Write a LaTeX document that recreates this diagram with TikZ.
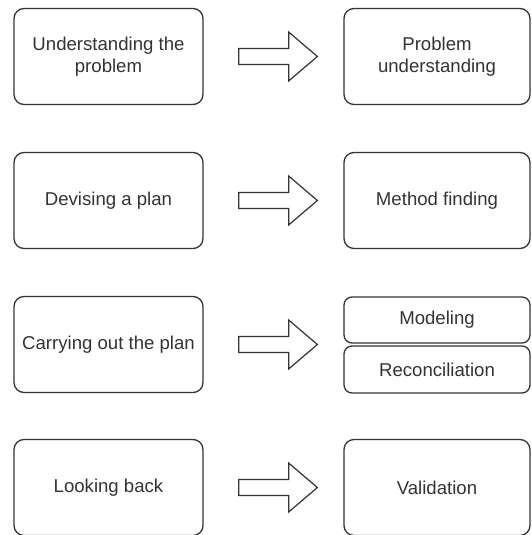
\documentclass[tikz,border=0pt]{standalone}
\usepackage{fontspec}
\setmainfont{Liberation Sans}
\usetikzlibrary{calc}
\definecolor{ink}{HTML}{333333}
\tikzset{
  stagebox/.style={draw=ink, line width=1.3pt, rounded corners=10pt,
    minimum width=189pt, minimum height=96pt, inner sep=2pt,
    align=center, text=ink, font=\fontsize{18.6}{22}\selectfont},
  resultbox/.style={stagebox, minimum width=186pt},
  halfbox/.style={resultbox, minimum height=46pt, rounded corners=8pt},
  blockarrow/.style={draw=ink, line width=1.2pt, fill=white, line join=miter}
}
\begin{document}
\begin{tikzpicture}[x=1pt, y=-1pt]
\useasboundingbox (0,0) rectangle (532,535);

% Polya's stages (left) and the matching activities (right)
\node[stagebox] (L1) at (108.5,56.5) {Understanding the\\problem};
\node[stagebox] (L2) at (108.5,200.5) {Devising a plan};
\node[stagebox] (L3) at (108.5,344.5) {Carrying out the plan};
\node[stagebox] (L4) at (108.5,487.5) {Looking back};

\node[resultbox] (R1) at (437,56.5) {Problem\\understanding};
\node[resultbox] (R2) at (437,200.5) {Method finding};
\node[halfbox] (R3a) at (437,320) {Modeling};
\node[halfbox, minimum height=47pt] (R3b) at (437,369.5) {Reconciliation};
\node[resultbox] (R4) at (437,487.5) {Validation};

% tip points of the block arrows
\coordinate (T1) at (L1.east -| R1.west);
\coordinate (T2) at (L2.east -| R2.west);
\coordinate (T3) at (L3.east -| R3a.west);
\coordinate (T4) at (L4.east -| R4.west);

% block arrows from each stage to its activity
\foreach \s/\t in {L1/T1, L2/T2, L3/T3, L4/T4}{
  \draw[blockarrow]
    ($(\s.east)+(35,-8)$) -- ($(\s.east)+(85,-8)$) -- ($(\s.east)+(85,-24.5)$)
    -- ($(\t)+(-26,0)$)
    -- ($(\s.east)+(85,24.5)$) -- ($(\s.east)+(85,8)$) -- ($(\s.east)+(35,8)$)
    -- cycle;
}
\end{tikzpicture}
\end{document}
